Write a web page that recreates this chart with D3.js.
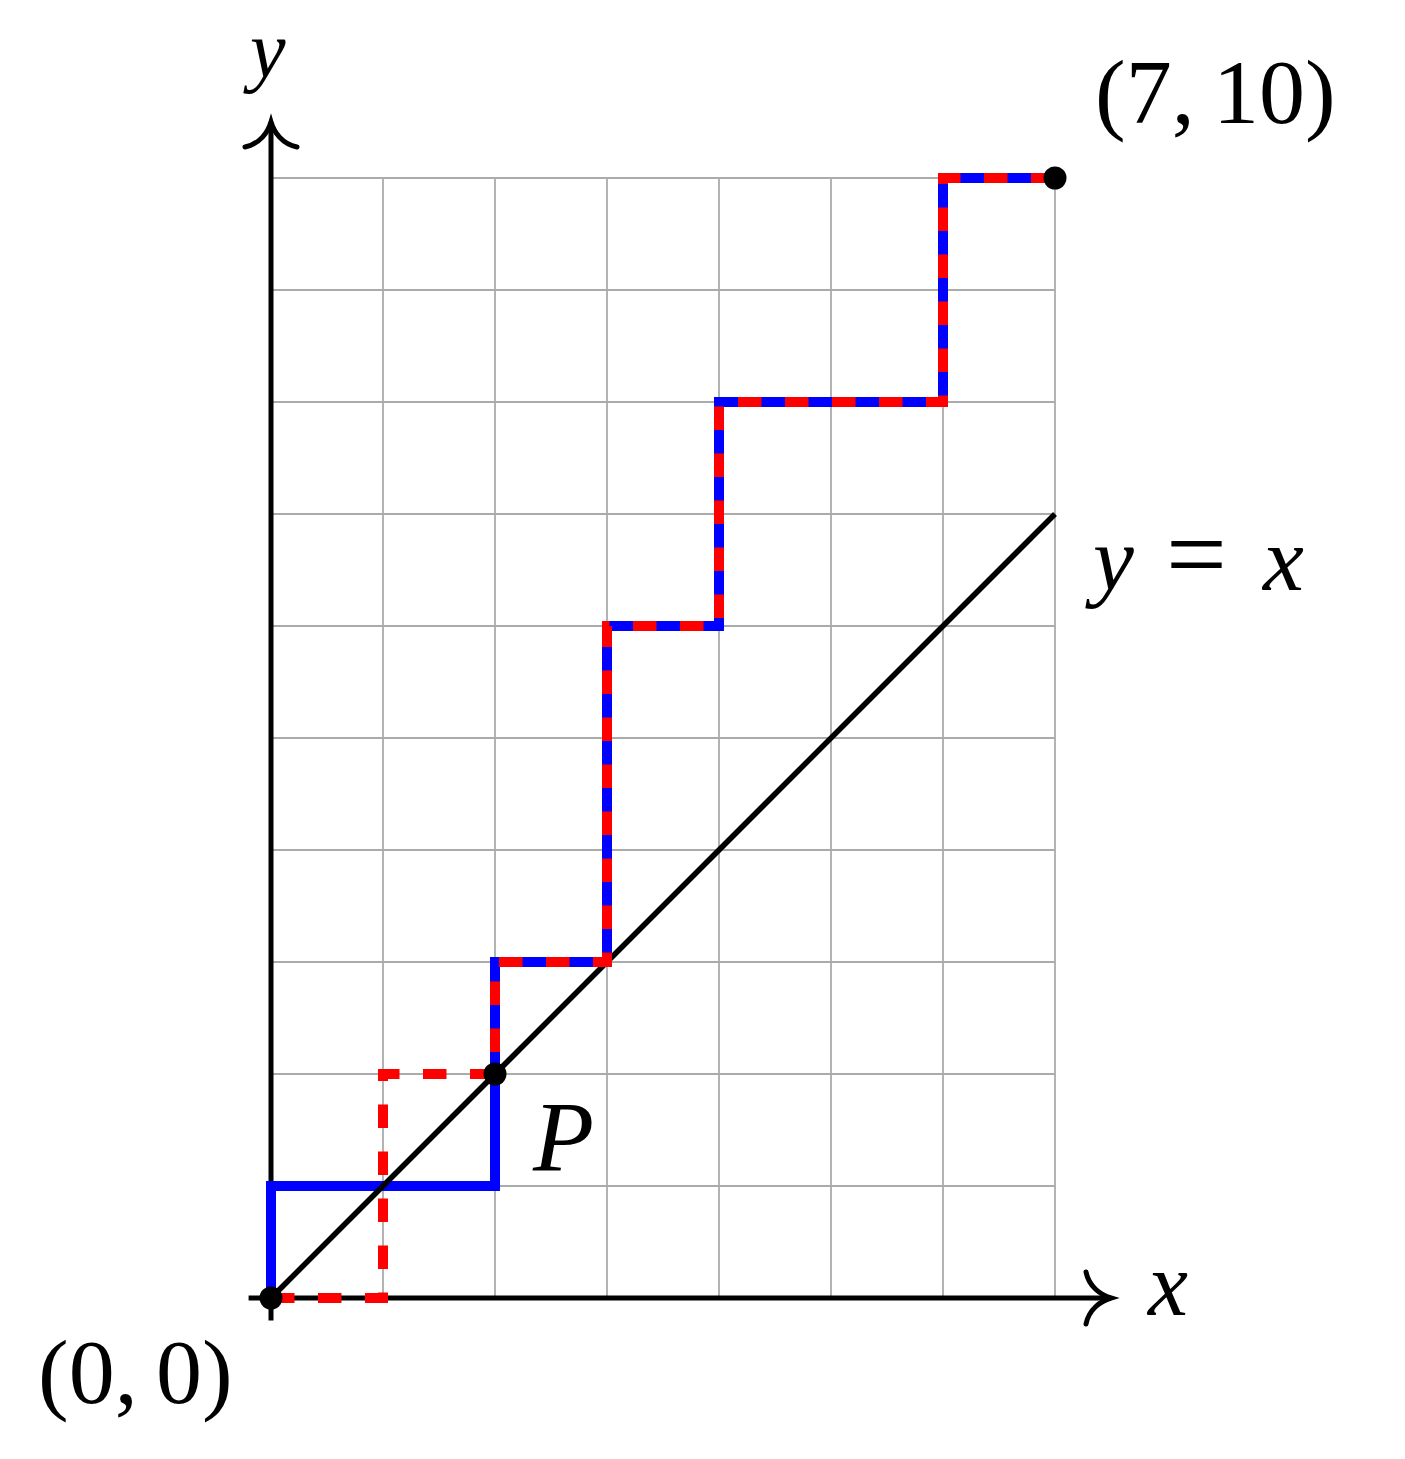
<!DOCTYPE html>
<html lang="en">
<head>
    <meta charset="UTF-8">
    <title>Lattice path above y = x</title>
    <script src="https://cdnjs.cloudflare.com/ajax/libs/d3/7.8.5/d3.js"></script>
    <style>
        html, body { margin: 0; padding: 0; background: #fff; }
        svg { display: block; }
        text { font-family: "Liberation Serif", "DejaVu Serif", serif; fill: #000; }
    </style>
</head>
<body>
<svg width="1405" height="1459"></svg>

<script>
    // grid ticks
    const xTicks = [0, 1, 2, 3, 4, 5, 6, 7];
    const yTicks = [0, 1, 2, 3, 4, 5, 6, 7, 8, 9, 10];

    // the two lattice paths, same after P
    const bluePath = [[0, 0], [0, 1], [2, 1], [2, 2], [2, 3], [3, 3], [3, 6], [4, 6], [4, 8], [6, 8], [6, 10], [7, 10]];
    const redPath  = [[0, 0], [1, 0], [1, 2], [2, 2], [2, 3], [3, 3], [3, 6], [4, 6], [4, 8], [6, 8], [6, 10], [7, 10]];

    // y = x
    const diagonal = [[0, 0], [7, 7]];

    // marked points
    const points = [[0, 0], [2, 2], [7, 10]];

    const svg = d3.select("svg");
    const x = d3.scaleLinear().domain([0, 7]).range([271, 1055]);
    const y = d3.scaleLinear().domain([0, 10]).range([1298, 178]);
    const line = d3.line().x(d => x(d[0])).y(d => y(d[1]));

    // grid
    const grid = svg.append("g").attr("stroke", "#ababab").attr("stroke-width", 1.8);
    grid.selectAll(".v").data(xTicks).enter().append("line")
        .attr("x1", d => x(d)).attr("x2", d => x(d))
        .attr("y1", y(0)).attr("y2", y(10));
    grid.selectAll(".h").data(yTicks).enter().append("line")
        .attr("x1", x(0)).attr("x2", x(7))
        .attr("y1", d => y(d)).attr("y2", d => y(d));

    // axes with curved "to" arrow heads
    const arrowHead = "M-25,-26 C-22,-11 -10,-3 0,0 C-10,3 -22,11 -25,26";
    const axes = svg.append("g").attr("stroke", "#000").attr("stroke-width", 5).attr("fill", "none");
    axes.append("line").attr("x1", x(-0.2)).attr("x2", x(7.5)).attr("y1", y(0)).attr("y2", y(0));
    axes.append("line").attr("x1", x(0)).attr("x2", x(0)).attr("y1", y(-0.2)).attr("y2", y(10.5));
    axes.append("path").attr("d", arrowHead)
        .attr("stroke-linecap", "round")
        .attr("transform", `translate(${x(7.5)},${y(0)})`);
    axes.append("path").attr("d", arrowHead)
        .attr("stroke-linecap", "round")
        .attr("transform", `translate(${x(0)},${y(10.5)}) rotate(-90)`);

    // blue path
    svg.append("path").datum(bluePath)
        .attr("d", line)
        .attr("fill", "none")
        .attr("stroke", "#0000ff")
        .attr("stroke-width", 10)
        .attr("stroke-linejoin", "miter");

    // y = x
    svg.append("path").datum(diagonal)
        .attr("d", line)
        .attr("fill", "none")
        .attr("stroke", "#000")
        .attr("stroke-width", 5.5);

    // red dashed path
    svg.append("path").datum(redPath)
        .attr("d", line)
        .attr("fill", "none")
        .attr("stroke", "#ff0000")
        .attr("stroke-width", 10)
        .attr("stroke-dasharray", "23.5 23.5")
        .attr("stroke-linejoin", "miter");

    // dots
    svg.selectAll("circle.pt").data(points).enter().append("circle")
        .attr("cx", d => x(d[0])).attr("cy", d => y(d[1]))
        .attr("r", 11.5).attr("fill", "#000");

    // labels
    svg.append("text").attr("x", 250).attr("y", 77)
        .attr("font-size", 80).attr("font-style", "italic").text("y");
    svg.append("text").attr("x", 1148).attr("y", 1315)
        .attr("font-size", 90).attr("font-style", "italic").text("x");

    svg.append("text").attr("x", x(7) + 40).attr("y", 123)
        .attr("font-size", 92).text("(7,\u200910)");
    svg.append("text").attr("x", 38).attr("y", 1403)
        .attr("font-size", 92).text("(0,\u20090)");
    svg.append("text").attr("x", x(2) + 38).attr("y", 1170)
        .attr("font-size", 100).attr("font-style", "italic").text("P");

    const eq = svg.append("text").attr("y", 590).attr("font-size", 92);
    eq.append("tspan").attr("x", 1093).attr("font-style", "italic").text("y");
    eq.append("tspan").attr("x", 1166).attr("font-size", 108).text("=");
    eq.append("tspan").attr("x", 1263).attr("font-style", "italic").text("x");
</script>
</body>
</html>
